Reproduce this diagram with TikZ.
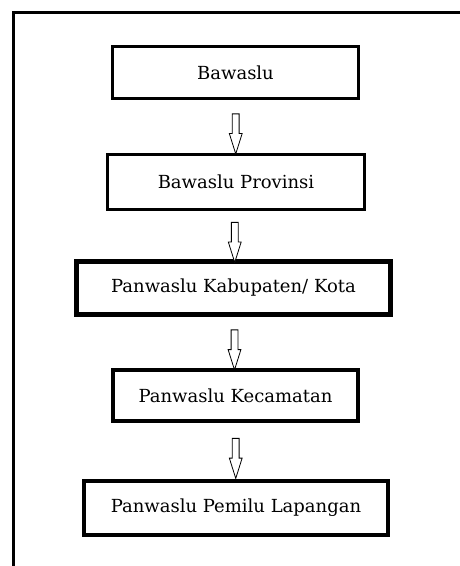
\documentclass[tikz,border=0pt]{standalone}
\usepackage{fontspec}
\setmainfont{DejaVu Serif}
\usetikzlibrary{shapes.arrows}

\begin{document}
\begin{tikzpicture}[x=1pt, y=-1pt, font=\fontsize{18}{20}\selectfont,
    lvl/.style={draw, line width=3pt, minimum width=246, minimum height=52},
    blockarr/.style={single arrow, draw, line width=0.8pt, fill=white, minimum height=40,
      inner xsep=0pt, inner ysep=3pt, single arrow head extend=3pt, single arrow tip angle=35,
      rotate=-90, xshift=2pt},
    ]
  \useasboundingbox (0,0) rectangle (460,566);

  % outer frame, right and bottom edges run off the page
  \draw[line width=3pt] (460,12) -- (13.5,12) -- (13.5,566);

  % Levels
  \node[lvl] (bawaslu) at (235.5,72.5) {Bawaslu};
  \node[lvl, minimum width=257, minimum height=55] (provinsi) at (236,182) {Bawaslu Provinsi};
  \node[lvl, line width=5pt, minimum width=314, minimum height=53] (kabkota) at (233.5,288) {Panwaslu Kabupaten/ Kota};
  \node[lvl, line width=4pt, minimum width=245, minimum height=51] (kecamatan) at (235.5,395.5) {Panwaslu Kecamatan};
  \node[lvl, line width=4pt, minimum width=304, minimum height=54] (lapangan) at (236,508) {Panwaslu Pemilu Lapangan};

  % Arrows between levels
  \foreach \a/\b in {bawaslu/provinsi, provinsi/kabkota, kabkota/kecamatan, kecamatan/lapangan}
    \path (\a) -- node[blockarr] {} (\b);
\end{tikzpicture}
\end{document}
